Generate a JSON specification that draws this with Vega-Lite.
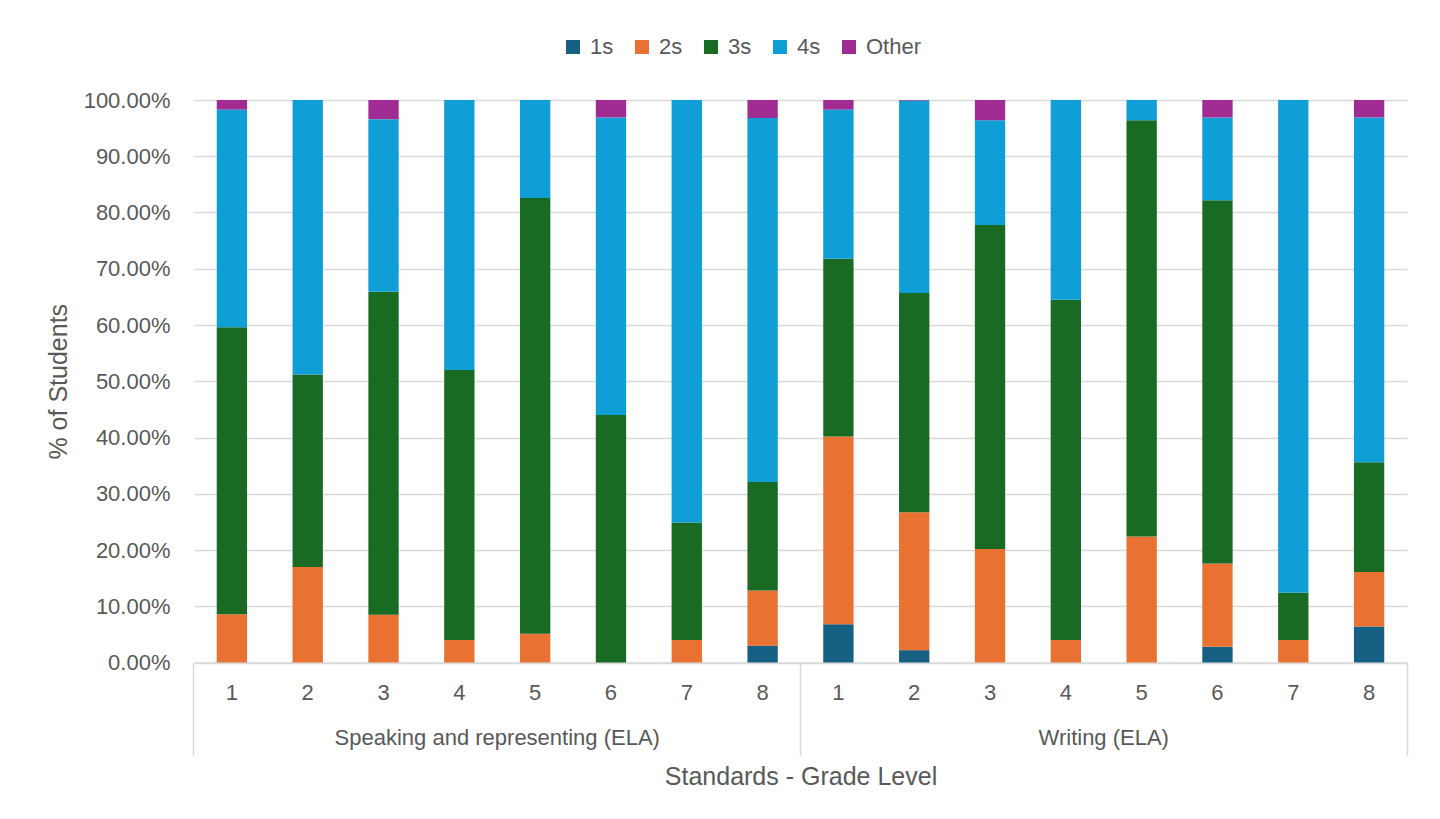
{
  "$schema": "https://vega.github.io/schema/vega-lite/v6.json",
  "width": 1213,
  "height": 562.5,
  "autosize": {"type": "none"},
  "padding": {"left": 194, "top": 100, "right": 33, "bottom": 156.5},
  "background": "white",
  "data": {
    "values": [
      {"standard": "Speaking and representing (ELA)", "key": "S-1", "level": "2s", "pct": 0.086},
      {"standard": "Speaking and representing (ELA)", "key": "S-1", "level": "3s", "pct": 0.510},
      {"standard": "Speaking and representing (ELA)", "key": "S-1", "level": "4s", "pct": 0.387},
      {"standard": "Speaking and representing (ELA)", "key": "S-1", "level": "Other", "pct": 0.017},
      {"standard": "Speaking and representing (ELA)", "key": "S-2", "level": "2s", "pct": 0.170},
      {"standard": "Speaking and representing (ELA)", "key": "S-2", "level": "3s", "pct": 0.342},
      {"standard": "Speaking and representing (ELA)", "key": "S-2", "level": "4s", "pct": 0.488},
      {"standard": "Speaking and representing (ELA)", "key": "S-3", "level": "2s", "pct": 0.085},
      {"standard": "Speaking and representing (ELA)", "key": "S-3", "level": "3s", "pct": 0.574},
      {"standard": "Speaking and representing (ELA)", "key": "S-3", "level": "4s", "pct": 0.307},
      {"standard": "Speaking and representing (ELA)", "key": "S-3", "level": "Other", "pct": 0.034},
      {"standard": "Speaking and representing (ELA)", "key": "S-4", "level": "2s", "pct": 0.040},
      {"standard": "Speaking and representing (ELA)", "key": "S-4", "level": "3s", "pct": 0.480},
      {"standard": "Speaking and representing (ELA)", "key": "S-4", "level": "4s", "pct": 0.480},
      {"standard": "Speaking and representing (ELA)", "key": "S-5", "level": "2s", "pct": 0.051},
      {"standard": "Speaking and representing (ELA)", "key": "S-5", "level": "3s", "pct": 0.775},
      {"standard": "Speaking and representing (ELA)", "key": "S-5", "level": "4s", "pct": 0.174},
      {"standard": "Speaking and representing (ELA)", "key": "S-6", "level": "3s", "pct": 0.440},
      {"standard": "Speaking and representing (ELA)", "key": "S-6", "level": "4s", "pct": 0.529},
      {"standard": "Speaking and representing (ELA)", "key": "S-6", "level": "Other", "pct": 0.031},
      {"standard": "Speaking and representing (ELA)", "key": "S-7", "level": "2s", "pct": 0.040},
      {"standard": "Speaking and representing (ELA)", "key": "S-7", "level": "3s", "pct": 0.209},
      {"standard": "Speaking and representing (ELA)", "key": "S-7", "level": "4s", "pct": 0.751},
      {"standard": "Speaking and representing (ELA)", "key": "S-8", "level": "1s", "pct": 0.030},
      {"standard": "Speaking and representing (ELA)", "key": "S-8", "level": "2s", "pct": 0.098},
      {"standard": "Speaking and representing (ELA)", "key": "S-8", "level": "3s", "pct": 0.193},
      {"standard": "Speaking and representing (ELA)", "key": "S-8", "level": "4s", "pct": 0.647},
      {"standard": "Speaking and representing (ELA)", "key": "S-8", "level": "Other", "pct": 0.032},
      {"standard": "Writing (ELA)", "key": "W-1", "level": "1s", "pct": 0.068},
      {"standard": "Writing (ELA)", "key": "W-1", "level": "2s", "pct": 0.334},
      {"standard": "Writing (ELA)", "key": "W-1", "level": "3s", "pct": 0.316},
      {"standard": "Writing (ELA)", "key": "W-1", "level": "4s", "pct": 0.265},
      {"standard": "Writing (ELA)", "key": "W-1", "level": "Other", "pct": 0.017},
      {"standard": "Writing (ELA)", "key": "W-2", "level": "1s", "pct": 0.022},
      {"standard": "Writing (ELA)", "key": "W-2", "level": "2s", "pct": 0.245},
      {"standard": "Writing (ELA)", "key": "W-2", "level": "3s", "pct": 0.390},
      {"standard": "Writing (ELA)", "key": "W-2", "level": "4s", "pct": 0.342},
      {"standard": "Writing (ELA)", "key": "W-2", "level": "Other", "pct": 0.001},
      {"standard": "Writing (ELA)", "key": "W-3", "level": "2s", "pct": 0.202},
      {"standard": "Writing (ELA)", "key": "W-3", "level": "3s", "pct": 0.576},
      {"standard": "Writing (ELA)", "key": "W-3", "level": "4s", "pct": 0.186},
      {"standard": "Writing (ELA)", "key": "W-3", "level": "Other", "pct": 0.036},
      {"standard": "Writing (ELA)", "key": "W-4", "level": "2s", "pct": 0.040},
      {"standard": "Writing (ELA)", "key": "W-4", "level": "3s", "pct": 0.605},
      {"standard": "Writing (ELA)", "key": "W-4", "level": "4s", "pct": 0.355},
      {"standard": "Writing (ELA)", "key": "W-5", "level": "2s", "pct": 0.224},
      {"standard": "Writing (ELA)", "key": "W-5", "level": "3s", "pct": 0.740},
      {"standard": "Writing (ELA)", "key": "W-5", "level": "4s", "pct": 0.036},
      {"standard": "Writing (ELA)", "key": "W-6", "level": "1s", "pct": 0.028},
      {"standard": "Writing (ELA)", "key": "W-6", "level": "2s", "pct": 0.148},
      {"standard": "Writing (ELA)", "key": "W-6", "level": "3s", "pct": 0.646},
      {"standard": "Writing (ELA)", "key": "W-6", "level": "4s", "pct": 0.147},
      {"standard": "Writing (ELA)", "key": "W-6", "level": "Other", "pct": 0.031},
      {"standard": "Writing (ELA)", "key": "W-7", "level": "2s", "pct": 0.040},
      {"standard": "Writing (ELA)", "key": "W-7", "level": "3s", "pct": 0.084},
      {"standard": "Writing (ELA)", "key": "W-7", "level": "4s", "pct": 0.876},
      {"standard": "Writing (ELA)", "key": "W-8", "level": "1s", "pct": 0.064},
      {"standard": "Writing (ELA)", "key": "W-8", "level": "2s", "pct": 0.097},
      {"standard": "Writing (ELA)", "key": "W-8", "level": "3s", "pct": 0.195},
      {"standard": "Writing (ELA)", "key": "W-8", "level": "4s", "pct": 0.613},
      {"standard": "Writing (ELA)", "key": "W-8", "level": "Other", "pct": 0.031}
    ]
  },
  "layer": [
    {
      "mark": {"type": "bar"},
      "encoding": {
        "x": {
          "field": "key",
          "type": "nominal",
          "sort": ["S-1","S-2","S-3","S-4","S-5","S-6","S-7","S-8","W-1","W-2","W-3","W-4","W-5","W-6","W-7","W-8"],
          "scale": {"paddingInner": 0.6, "paddingOuter": 0.3},
          "axis": {
            "title": null,
            "labelExpr": "slice(datum.value, 2)",
            "labelAngle": 0,
            "labelFontSize": 22,
            "labelPadding": -73,
            "domain": true,
            "domainColor": "#d9d9d9",
            "domainWidth": 1.5,
            "ticks": true,
            "tickSize": 93,
            "tickWidth": 1.5,
            "bandPosition": -0.75,
            "tickColor": {"condition": {"test": "datum.value == 'S-1'", "value": "#d9d9d9"}, "value": "transparent"},
            "grid": false
          }
        },
        "y": {
          "field": "pct",
          "type": "quantitative",
          "stack": "zero",
          "scale": {"domain": [0, 1], "nice": false},
          "axis": {
            "title": "% of Students",
            "format": ".2%",
            "values": [0, 0.1, 0.2, 0.3, 0.4, 0.5, 0.6, 0.7, 0.8, 0.9, 1],
            "domain": false,
            "ticks": false,
            "labelPadding": 24,
            "labelFontSize": 22,
            "titleFontSize": 25,
            "titlePadding": 12,
            "grid": true,
            "gridColor": "#d9d9d9",
            "gridWidth": 1.5
          }
        },
        "color": {
          "field": "level",
          "type": "nominal",
          "sort": ["1s", "2s", "3s", "4s", "Other"],
          "scale": {
            "domain": ["1s", "2s", "3s", "4s", "Other"],
            "range": ["#156082", "#E97132", "#196B24", "#0F9ED5", "#A02B93"]
          },
          "legend": {
            "title": null,
            "orient": "none",
            "direction": "horizontal",
            "legendX": 368,
            "legendY": -64,
            "symbolType": "square",
            "symbolSize": 196,
            "symbolStrokeWidth": 0,
            "labelFontSize": 22,
            "labelOffset": 6,
            "columnPadding": 17,
            "labelColor": "#595959"
          }
        },
        "order": {"field": "level", "sort": "ascending"}
      }
    },
    {
      "mark": {"type": "bar", "opacity": 0},
      "encoding": {
        "x": {
          "field": "standard",
          "type": "nominal",
          "sort": ["Speaking and representing (ELA)", "Writing (ELA)"],
          "scale": {"type": "band", "paddingInner": 0, "paddingOuter": 0},
          "axis": {
            "orient": "bottom",
            "title": "Standards - Grade Level",
            "titleFontSize": 25,
            "titlePadding": 8,
            "labelAngle": 0,
            "labelFontSize": 22,
            "labelLimit": 0,
            "labelPadding": -28,
            "domain": false,
            "ticks": true,
            "tickSize": 93,
            "tickWidth": 1.5,
            "tickColor": "#d9d9d9",
            "bandPosition": 1,
            "grid": false
          }
        }
      }
    }
  ],
  "resolve": {"scale": {"x": "independent"}, "axis": {"x": "independent"}},
  "config": {
    "font": "Liberation Sans",
    "view": {"stroke": null},
    "axis": {
      "labelColor": "#595959",
      "titleColor": "#595959",
      "titleFontWeight": "normal",
      "labelFont": "Liberation Sans",
      "titleFont": "Liberation Sans"
    },
    "legend": {"labelFont": "Liberation Sans"}
  }
}
